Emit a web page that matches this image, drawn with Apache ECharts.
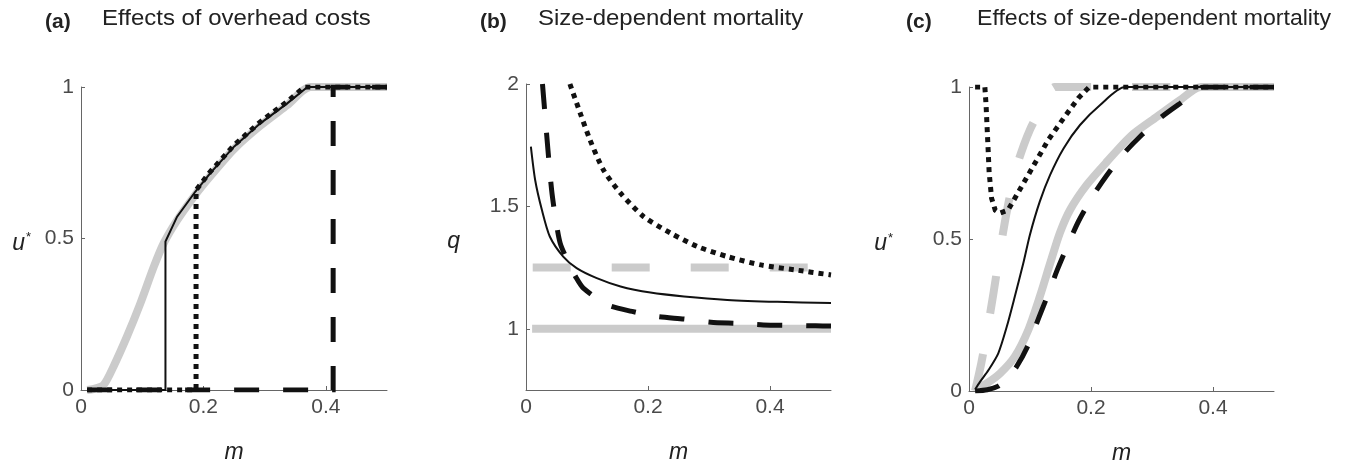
<!DOCTYPE html>
<html>
<head>
<meta charset="utf-8">
<script src="https://cdn.jsdelivr.net/npm/echarts@6/dist/echarts.min.js"></script>
<style>
html,body{margin:0;padding:0;background:#fff;}
#c{width:1357px;height:463px;}
</style>
</head>
<body>
<div id="c"></div>
<script>
// ---------- tick labels ----------
const xTicks = [0, 0.2, 0.4];
const uTicks = [0, 0.5, 1];
const qTicks = [1, 1.5, 2];

// ---------- panel (a): effects of overhead costs ----------
const aGray = [[0.01,0],[0.02,0.003],[0.037,0.017],[0.053,0.077],[0.075,0.176],[0.097,0.286],[0.119,0.407],[0.135,0.484],[0.157,0.56],[0.187,0.645],[0.211,0.705],[0.25,0.795],[0.293,0.872],[0.337,0.94],[0.375,1],[0.5,1]];
const aSolid = [[0.01,0],[0.138,0],[0.138,0.49],[0.157,0.572],[0.187,0.655],[0.211,0.715],[0.25,0.803],[0.293,0.88],[0.337,0.946],[0.37,1],[0.5,1]];
const aDotted = [[0.01,0],[0.188,0],[0.188,0.66],[0.211,0.72],[0.25,0.808],[0.293,0.885],[0.337,0.952],[0.365,1],[0.5,1]];
const aDashed = [[0.01,0],[0.412,0],[0.412,1],[0.5,1]];

// ---------- panel (b): size-dependent mortality ----------
const bGray = [[0.01,1],[0.5,1]];
const bGrayDashed = [[0.011,1.25],[0.5,1.25]];
const bSolid = [[0.008,1.744],[0.015,1.608],[0.026,1.486],[0.039,1.377],[0.061,1.295],[0.083,1.248],[0.116,1.207],[0.155,1.173],[0.204,1.148],[0.259,1.132],[0.33,1.118],[0.412,1.11],[0.5,1.105]];
const bDashed = [[0.027,2.0],[0.032,1.85],[0.036,1.73],[0.042,1.567],[0.048,1.458],[0.056,1.35],[0.07,1.268],[0.082,1.21],[0.094,1.166],[0.133,1.098],[0.174,1.071],[0.215,1.05],[0.259,1.04],[0.303,1.027],[0.347,1.022],[0.389,1.016],[0.433,1.014],[0.475,1.012],[0.5,1.011]];
const bDotted = [[0.072,2.0],[0.089,1.88],[0.105,1.771],[0.127,1.649],[0.155,1.554],[0.193,1.458],[0.237,1.391],[0.281,1.336],[0.33,1.295],[0.385,1.261],[0.44,1.241],[0.5,1.22]];

// ---------- panel (c): effects of size-dependent mortality ----------
const cGray = [[0.01,0.005],[0.029,0.025],[0.051,0.058],[0.075,0.113],[0.097,0.2],[0.116,0.31],[0.133,0.42],[0.149,0.52],[0.166,0.597],[0.193,0.678],[0.226,0.754],[0.266,0.84],[0.308,0.902],[0.346,0.957],[0.38,1],[0.5,1]];
const cGrayDashed = [[0.01,0],[0.02,0.09],[0.03,0.2],[0.04,0.32],[0.05,0.45],[0.06,0.57],[0.07,0.67],[0.08,0.75],[0.09,0.81],[0.1,0.86],[0.11,0.9],[0.12,0.94],[0.13,0.975],[0.14,1],[0.5,1]];
const cSolid = [[0.01,0.005],[0.018,0.03],[0.032,0.069],[0.048,0.124],[0.062,0.212],[0.075,0.31],[0.089,0.42],[0.1,0.515],[0.116,0.623],[0.133,0.711],[0.155,0.798],[0.182,0.875],[0.215,0.941],[0.256,1],[0.5,1]];
const cDashed = [[0.01,0],[0.03,0.004],[0.048,0.016],[0.062,0.04],[0.078,0.08],[0.097,0.151],[0.114,0.239],[0.13,0.32],[0.145,0.4],[0.163,0.485],[0.18,0.56],[0.204,0.645],[0.226,0.71],[0.253,0.78],[0.283,0.842],[0.316,0.902],[0.346,0.946],[0.385,1],[0.5,1]];
const cDotted = [[0.01,1],[0.026,1],[0.028,0.94],[0.031,0.81],[0.033,0.72],[0.037,0.634],[0.043,0.595],[0.05,0.585],[0.064,0.595],[0.086,0.672],[0.108,0.749],[0.13,0.826],[0.155,0.897],[0.179,0.963],[0.197,1],[0.5,1]];

// ---------- titles ----------
const panelTags = ['(a)', '(b)', '(c)'];
const panelTitles = ['Effects of overhead costs', 'Size-dependent mortality', 'Effects of size-dependent mortality'];

const FONT = '"Liberation Sans", Arial, Helvetica, sans-serif';
const GRAY = '#cbcbcb';
const BLACK = '#111111';
const AXIS = '#666666';

const grids = [
  {left: 81, top: 87, width: 306, height: 303, containLabel: false, outerBoundsMode: 'none'},
  {left: 526, top: 84, width: 305, height: 306, containLabel: false, outerBoundsMode: 'none'},
  {left: 969, top: 87, width: 305, height: 304, containLabel: false, outerBoundsMode: 'none'}
];

function xAxis(i) {
  return {
    type: 'value', gridIndex: i, min: 0, max: 0.5, interval: 0.1,
    name: 'm', nameLocation: 'middle', nameGap: 51,
    nameTextStyle: {fontFamily: FONT, fontStyle: 'italic', fontSize: 23, color: '#222'},
    axisLine: {show: true, lineStyle: {color: AXIS, width: 1}},
    axisTick: {show: true, inside: true, length: 4, lineStyle: {color: AXIS}, customValues: xTicks},
    axisLabel: {show: true, customValues: xTicks, fontFamily: FONT, fontSize: 21, color: '#4a4a4a', margin: 7,
      formatter: v => String(v)},
    splitLine: {show: false}
  };
}
function yAxis(i, ticks, min, max, nameRich, gap) {
  return {
    type: 'value', gridIndex: i, min: min, max: max, interval: 0.25,
    name: nameRich, nameLocation: 'middle', nameGap: gap, nameRotate: 0,
    nameTextStyle: {fontFamily: FONT, fontSize: 23, color: '#222', padding: [10, 0, 0, 0],
      rich: {
        u: {fontFamily: FONT, fontStyle: 'italic', fontSize: 23, color: '#222'},
        s: {fontFamily: FONT, fontSize: 13, color: '#222', verticalAlign: 'top', padding: [0, 0, 12, 1]},
        q: {fontFamily: FONT, fontStyle: 'italic', fontSize: 23, color: '#222'}
      }},
    axisLine: {show: true, lineStyle: {color: AXIS, width: 1}},
    axisTick: {show: true, inside: true, length: 4, lineStyle: {color: AXIS}, customValues: ticks},
    axisLabel: {show: true, customValues: ticks, fontFamily: FONT, fontSize: 21, color: '#4a4a4a', margin: 7,
      formatter: v => String(v)},
    splitLine: {show: false}
  };
}

function line(i, data, color, width, dash, z, smooth) {
  return {
    type: 'line', xAxisIndex: i, yAxisIndex: i, data: data,
    showSymbol: false, symbol: 'none', animation: false, silent: true, z: z,
    smooth: smooth || false,
    lineStyle: {color: color, width: width, type: dash || 'solid', cap: 'butt', join: 'miter'}
  };
}

const GW = 8, BW = 5, TW = 2;
const DOT = [5, 5], DASH = [25, 24], GDASH = [38, 41];
const SM = 0.25;

const graphics = [];
const tagX = [45, 480, 906];
const titleX = [102, 538, 977];
const titleScale = [1.09, 1.09, 1.05];
for (let k = 0; k < 3; k++) {
  graphics.push({type: 'text', x: tagX[k], y: 22, style: {text: panelTags[k], font: 'bold 21px ' + FONT, fill: '#222', textVerticalAlign: 'middle'}});
  graphics.push({type: 'text', x: titleX[k], y: 19, scaleX: titleScale[k], style: {text: panelTitles[k], font: '22px ' + FONT, fill: '#222', textVerticalAlign: 'middle'}});
}

const option = {
  backgroundColor: '#fff',
  animation: false,
  grid: grids,
  xAxis: [xAxis(0), xAxis(1), xAxis(2)],
  yAxis: [
    yAxis(0, uTicks, 0, 1, '{u|u}{s|*}', 50),
    yAxis(1, qTicks, 0.75, 2, '{q|q}', 66),
    yAxis(2, uTicks, 0, 1, '{u|u}{s|*}', 76)
  ],
  graphic: graphics,
  series: [
    line(0, aGray, GRAY, GW, 'solid', 2, SM),
    line(0, aSolid, BLACK, TW, 'solid', 3),
    line(0, aDotted, BLACK, BW, DOT, 4),
    line(0, aDashed, BLACK, BW, DASH, 5),

    line(1, bGray, GRAY, GW, 'solid', 2),
    line(1, bGrayDashed, GRAY, GW, GDASH, 2),
    line(1, bSolid, BLACK, TW, 'solid', 3, SM),
    line(1, bDashed, BLACK, BW, DASH, 4, SM),
    line(1, bDotted, BLACK, BW, DOT, 5, SM),

    line(2, cGray, GRAY, GW, 'solid', 2, SM),
    line(2, cGrayDashed, GRAY, GW, GDASH, 2, SM),
    line(2, cSolid, BLACK, TW, 'solid', 3, SM),
    line(2, cDashed, BLACK, BW, DASH, 4, SM),
    line(2, cDotted, BLACK, BW, DOT, 5)
  ]
};

const chart = echarts.init(document.getElementById('c'), null, {renderer: 'canvas'});
chart.setOption(option);
</script>
</body>
</html>
